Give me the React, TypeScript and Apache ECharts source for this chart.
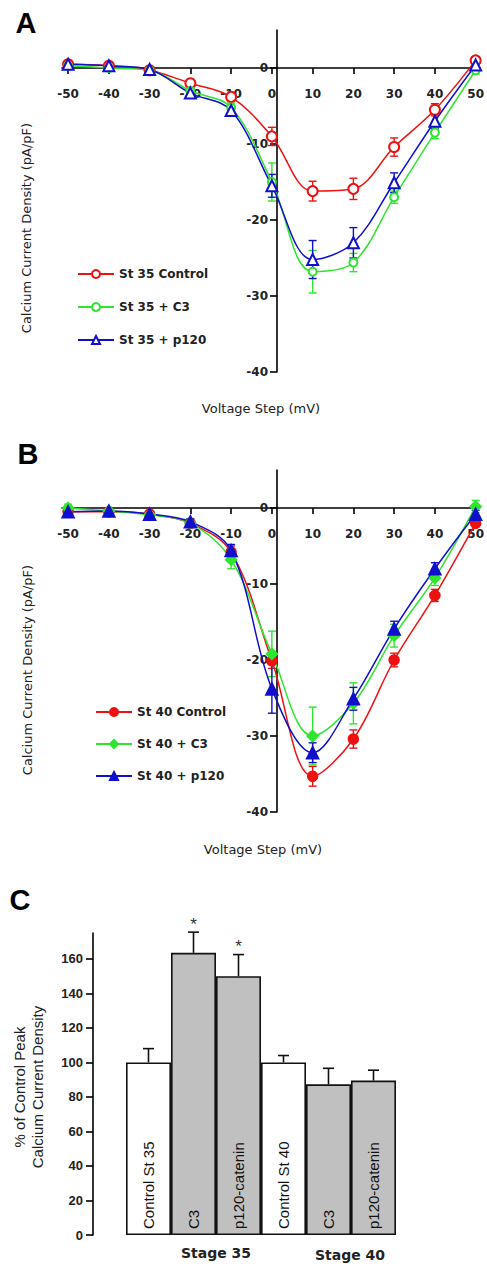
import React, { useEffect, useRef } from "react";
import * as echarts from "echarts";

// ---------- data ----------
const voltages = [-50, -40, -30, -20, -10, 0, 10, 20, 30, 40, 50];
const xTicks = [-50, -40, -30, -20, -10, 0, 10, 20, 30, 40, 50];
const yTicksIV = [-40, -30, -20, -10, 0];

const aNames = ["St 35 Control", "St 35 + C3", "St 35 + p120"];
const aControl = [0.5, 0.3, -0.3, -2, -3.8, -9, -16.2, -15.9, -10.4, -5.5, 1];
const aControlErr = [0.3, 0.3, 0.3, 0.4, 0.6, 1.2, 1.3, 1.4, 1.2, 0.8, 0.5];
const aC3 = [0.3, 0, -0.3, -3, -5.2, -15, -26.8, -25.6, -17, -8.5, -0.3];
const aC3Err = [0.3, 0.3, 0.3, 0.5, 0.6, 2.5, 2.8, 1.2, 0.8, 0.8, 0.5];
const aP120 = [0.5, 0.3, -0.2, -3.3, -5.6, -15.5, -25.2, -23, -15.1, -7, 0.4];
const aP120Err = [0.3, 0.3, 0.3, 0.5, 0.6, 1.5, 2.5, 2.0, 1.3, 1.0, 0.5];

const bNames = ["St 40 Control", "St 40 + C3", "St 40 + p120"];
const bControl = [-0.5, -0.5, -0.8, -2, -5.8, -20.1, -35.3, -30.4, -20, -11.5, -2];
const bControlErr = [0.3, 0.3, 0.3, 0.4, 0.8, 1, 1.3, 1.2, 0.9, 0.8, 0.5];
const bC3 = [0, -0.4, -0.9, -2, -6.8, -19.2, -30, -25.7, -16.8, -9.2, 0.2];
const bC3Err = [0.5, 0.3, 0.3, 0.5, 1.2, 3, 3.8, 2.7, 1.5, 1, 0.8];
const bP120 = [-0.5, -0.4, -0.8, -1.8, -5.6, -23.8, -32.2, -25.1, -15.9, -8, -0.8];
const bP120Err = [0.3, 0.3, 0.3, 0.4, 0.8, 3.2, 1.3, 1.5, 1, 0.8, 0.5];

const barCategories = ["Control St 35", "C3", "p120-catenin", "Control St 40", "C3", "p120-catenin"];
const barValues = [100, 163.5, 150, 100, 87.3, 89.5];
const barErrors = [8, 12, 12.5, 4, 9.3, 6];
const barStars = ["", "*", "*", "", "", ""];
const barTicks = [0, 20, 40, 60, 80, 100, 120, 140, 160];
const stageLabels = ["Stage 35", "Stage 40"];

// ---------- layout / styles ----------
const RED = "#ee1111";
const GREEN = "#2ee62e";
const BLUE = "#1010cc";
const FONT = "DejaVu Sans";
const X_MIN = -51.5;
const X_MAX = 51;
const Y_MIN = -40;
const Y_MAX = 5;
const IV_LEFT = 62;
const IV_WIDTH = 428;
const IV_HEIGHT = 342;
// offsets that bring the axes onto the zero lines
const X_AXIS_OFFSET = -((0 - Y_MIN) / (Y_MAX - Y_MIN)) * IV_HEIGHT;
const Y_AXIS_OFFSET = -((0 - X_MIN) / (X_MAX - X_MIN)) * IV_WIDTH;

function lineSeries(name: string, xi: number, vals: number[], color: string, symbol: string, size: number) {
  return {
    name,
    type: "line",
    xAxisIndex: xi,
    yAxisIndex: xi,
    data: voltages.map((v, i) => [v, vals[i]]),
    smooth: 0.35,
    symbol,
    symbolSize: size,
    showAllSymbol: true,
    lineStyle: { color, width: 1.5 },
    itemStyle: { color, borderColor: color, borderWidth: 1.6 },
    z: 3,
  };
}

function errSeries(xi: number, vals: number[], errs: number[], color: string) {
  return {
    type: "custom",
    xAxisIndex: xi,
    yAxisIndex: xi,
    silent: true,
    z: 2,
    data: voltages.map((v, i) => [v, vals[i] - errs[i], vals[i] + errs[i]]),
    renderItem: (params: any, api: any) => {
      const lo = api.coord([api.value(0), api.value(1)]);
      const hi = api.coord([api.value(0), api.value(2)]);
      const w = 4;
      const st = { stroke: color, lineWidth: 1.4 };
      return {
        type: "group",
        children: [
          { type: "line", shape: { x1: lo[0], y1: lo[1], x2: hi[0], y2: hi[1] }, style: st },
          { type: "line", shape: { x1: lo[0] - w, y1: lo[1], x2: lo[0] + w, y2: lo[1] }, style: st },
          { type: "line", shape: { x1: hi[0] - w, y1: hi[1], x2: hi[0] + w, y2: hi[1] }, style: st },
        ],
      };
    },
  };
}

function ivXAxis(gi: number) {
  return {
    type: "value",
    gridIndex: gi,
    position: "bottom",
    offset: X_AXIS_OFFSET,
    min: X_MIN,
    max: X_MAX,
    axisLine: { onZero: false, lineStyle: { color: "#000", width: 1.6 } },
    axisTick: { customValues: xTicks, length: 6, lineStyle: { color: "#000", width: 1.6 } },
    axisLabel: {
      customValues: xTicks,
      margin: 20,
      color: "#222",
      fontFamily: FONT,
      fontWeight: "bold",
      fontSize: 12,
    },
    splitLine: { show: false },
  };
}

function ivYAxis(gi: number) {
  return {
    type: "value",
    gridIndex: gi,
    position: "left",
    offset: Y_AXIS_OFFSET,
    min: Y_MIN,
    max: Y_MAX,
    axisLine: { onZero: false, lineStyle: { color: "#000", width: 1.6 } },
    axisTick: { customValues: yTicksIV, length: 7, lineStyle: { color: "#000", width: 1.6 } },
    axisLabel: {
      customValues: yTicksIV,
      margin: 9,
      color: "#222",
      fontFamily: FONT,
      fontWeight: "bold",
      fontSize: 12,
    },
    splitLine: { show: false },
  };
}

export default function App() {
  const ref = useRef<HTMLDivElement>(null);
  useEffect(() => {
    document.body.style.margin = "0";
    const chart = echarts.init(ref.current!, null, { renderer: "svg" });
    const barSeriesData = barValues.map((v, i) => ({
      value: v,
      itemStyle: { color: i % 3 === 0 ? "#ffffff" : "#c0c0c0" },
    }));
    const option: any = {
      animation: false,
      backgroundColor: "#fff",
      grid: [
        { left: IV_LEFT, width: IV_WIDTH, top: 30, height: IV_HEIGHT },
        { left: IV_LEFT, width: IV_WIDTH, top: 470, height: IV_HEIGHT },
        { left: 126, width: 270, top: 933, height: 302 },
      ],
      xAxis: [
        ivXAxis(0),
        ivXAxis(1),
        {
          type: "category",
          gridIndex: 2,
          data: barCategories.map((_, i) => String(i)),
          axisLine: { show: false },
          axisTick: { show: false },
          axisLabel: { show: false },
        },
      ],
      yAxis: [
        ivYAxis(0),
        ivYAxis(1),
        {
          type: "value",
          gridIndex: 2,
          min: 0,
          max: 175,
          offset: 33,
          axisLine: { show: true, onZero: false, lineStyle: { color: "#000", width: 1.6 } },
          axisTick: { show: true, customValues: barTicks, length: 7, lineStyle: { color: "#000", width: 1.6 } },
          axisLabel: {
            customValues: barTicks,
            margin: 10,
            color: "#222",
            fontFamily: "Liberation Sans",
            fontWeight: "bold",
            fontSize: 13,
          },
          splitLine: { show: false },
        },
      ],
      legend: [
        {
          data: aNames,
          orient: "vertical",
          left: 72,
          top: 263,
          itemWidth: 36,
          itemHeight: 10,
          itemGap: 21,
          selectedMode: false,
          textStyle: { fontFamily: FONT, fontWeight: "bold", fontSize: 12, color: "#222" },
        },
        {
          data: bNames,
          orient: "vertical",
          left: 90,
          top: 701,
          itemWidth: 36,
          itemHeight: 10,
          itemGap: 20,
          selectedMode: false,
          textStyle: { fontFamily: FONT, fontWeight: "bold", fontSize: 12, color: "#222" },
        },
      ],
      series: [
        errSeries(0, aControl, aControlErr, RED),
        errSeries(0, aC3, aC3Err, GREEN),
        errSeries(0, aP120, aP120Err, BLUE),
        lineSeries(aNames[0], 0, aControl, RED, "emptyCircle", 10),
        lineSeries(aNames[1], 0, aC3, GREEN, "emptyCircle", 8),
        lineSeries(aNames[2], 0, aP120, BLUE, "emptyTriangle", 11),
        errSeries(1, bControl, bControlErr, RED),
        errSeries(1, bC3, bC3Err, GREEN),
        errSeries(1, bP120, bP120Err, BLUE),
        lineSeries(bNames[0], 1, bControl, RED, "circle", 10),
        lineSeries(bNames[1], 1, bC3, GREEN, "diamond", 11),
        lineSeries(bNames[2], 1, bP120, BLUE, "triangle", 12),
        {
          type: "bar",
          xAxisIndex: 2,
          yAxisIndex: 2,
          barCategoryGap: 0,
          barWidth: "100%",
          data: barSeriesData,
          itemStyle: { borderColor: "#111", borderWidth: 1.6 },
          label: {
            show: true,
            position: "insideBottom",
            rotate: 90,
            align: "left",
            verticalAlign: "middle",
            distance: 6,
            fontFamily: "Liberation Sans",
            fontSize: 15,
            color: "#111",
            formatter: (p: any) => barCategories[p.dataIndex],
          },
          z: 2,
        },
        {
          type: "custom",
          xAxisIndex: 2,
          yAxisIndex: 2,
          silent: true,
          z: 3,
          data: barValues.map((v, i) => [i, v, v + barErrors[i]]),
          renderItem: (params: any, api: any) => {
            const idx = params.dataIndex;
            const lo = api.coord([api.value(0), api.value(1)]);
            const hi = api.coord([api.value(0), api.value(2)]);
            const w = 5.5;
            const st = { stroke: "#111", lineWidth: 1.6 };
            const children: any[] = [
              { type: "line", shape: { x1: lo[0], y1: lo[1], x2: hi[0], y2: hi[1] }, style: st },
              { type: "line", shape: { x1: hi[0] - w, y1: hi[1], x2: hi[0] + w, y2: hi[1] }, style: st },
            ];
            if (barStars[idx]) {
              children.push({
                type: "text",
                style: {
                  text: barStars[idx],
                  x: hi[0],
                  y: hi[1] - 8,
                  align: "center",
                  verticalAlign: "middle",
                  fontSize: 17,
                  fontFamily: "Liberation Sans",
                  fill: "#333",
                },
              });
            }
            return { type: "group", children };
          },
        },
      ],
      graphic: [
        { type: "text", x: 26, y: 23, style: { text: "A", fontSize: 29, fontWeight: "bold", fontFamily: "Liberation Sans", fill: "#000", align: "center", verticalAlign: "middle" } },
        { type: "text", x: 28, y: 454, style: { text: "B", fontSize: 29, fontWeight: "bold", fontFamily: "Liberation Sans", fill: "#000", align: "center", verticalAlign: "middle" } },
        { type: "text", x: 20, y: 900, style: { text: "C", fontSize: 29, fontWeight: "bold", fontFamily: "Liberation Sans", fill: "#000", align: "center", verticalAlign: "middle" } },
        { type: "text", x: 26, y: 228, rotation: Math.PI / 2, style: { text: "Calcium Current Density (pA/pF)", fontSize: 13, fontFamily: FONT, fill: "#222", align: "center", verticalAlign: "middle" } },
        { type: "text", x: 27, y: 670, rotation: Math.PI / 2, style: { text: "Calcium Current Density (pA/pF)", fontSize: 13, fontFamily: FONT, fill: "#222", align: "center", verticalAlign: "middle" } },
        { type: "text", x: 261, y: 408, style: { text: "Voltage Step (mV)", fontSize: 13, fontFamily: FONT, fill: "#222", align: "center", verticalAlign: "middle" } },
        { type: "text", x: 263, y: 849, style: { text: "Voltage Step (mV)", fontSize: 13, fontFamily: FONT, fill: "#222", align: "center", verticalAlign: "middle" } },
        { type: "text", x: 19, y: 1087, rotation: Math.PI / 2, style: { text: "% of Control Peak", fontSize: 15, fontFamily: "Liberation Sans", fill: "#222", align: "center", verticalAlign: "middle" } },
        { type: "text", x: 37, y: 1087, rotation: Math.PI / 2, style: { text: "Calcium Current Density", fontSize: 15, fontFamily: "Liberation Sans", fill: "#222", align: "center", verticalAlign: "middle" } },
        { type: "text", x: 216, y: 1253, style: { text: stageLabels[0], fontSize: 14, fontWeight: "bold", fontFamily: FONT, fill: "#222", align: "center", verticalAlign: "middle" } },
        { type: "text", x: 350, y: 1255, style: { text: stageLabels[1], fontSize: 14, fontWeight: "bold", fontFamily: FONT, fill: "#222", align: "center", verticalAlign: "middle" } },
      ],
    };
    chart.setOption(option);
    return () => chart.dispose();
  }, []);
  return <div ref={ref} style={{ width: 487, height: 1266 }} />;
}
